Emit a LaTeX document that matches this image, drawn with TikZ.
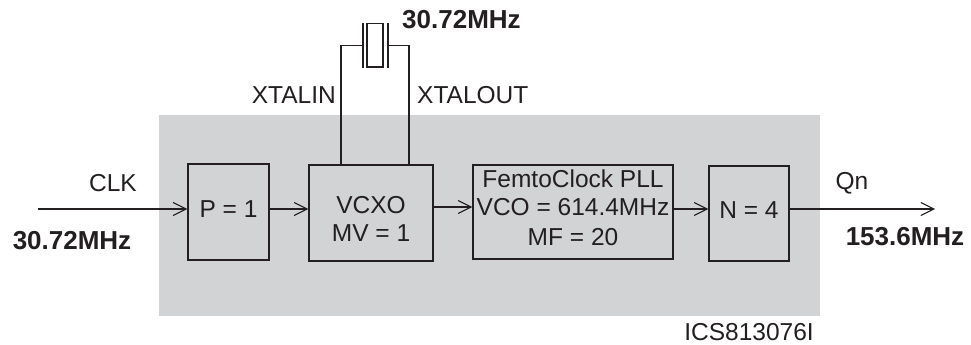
\documentclass[tikz,border=0pt]{standalone}
\usepackage{fontspec}
\setmainfont{Liberation Sans}
\usetikzlibrary{arrows.meta}
\definecolor{panel}{RGB}{209,211,212}
\definecolor{ink}{RGB}{35,31,32}
\begin{document}
\begin{tikzpicture}[x=1pt,y=-1pt,
  blk/.style={draw=ink,line width=1.3pt,minimum width=#1,inner sep=0pt},
  lbl/.style={text=ink,font=\fontsize{24.5}{28}\selectfont,inner sep=0pt},
  blbl/.style={text=ink,font=\fontsize{26}{30}\selectfont\bfseries,inner sep=0pt},
  sig/.style={draw=ink,line width=1.3pt,-{Straight Barb[length=13pt,width=13pt,line width=1.1pt]}},
  wire/.style={draw=ink,line width=1.3pt}]
\useasboundingbox (0,0) rectangle (971,345);
\fill[panel] (159,115) rectangle (820,316);
% blocks
\node[blk=81pt,minimum height=96pt] (P) at (228.5,212) {};
\node[blk=124pt,minimum height=96pt] (V) at (371,213) {};
\node[blk=200pt,minimum height=94pt] (F) at (573,212) {};
\node[blk=80pt,minimum height=95pt] (N) at (749,213.5) {};
% block texts
\node[lbl] (Pt) at (228.5,209) {P = 1};
\node[lbl] (Vt1) at (371,205) {VCXO};
\node[lbl] (Vt2) at (371,233) {MV = 1};
\node[lbl] (Ft1) at (573,179) {FemtoClock PLL};
\node[lbl] (Ft2) at (573,207) {VCO = 614.4MHz};
\node[lbl] (Ft3) at (573,237) {MF = 20};
\node[lbl] (Nt) at (749,210) {N = 4};
% signal path
\coordinate (in) at (38,209);
\coordinate (out) at (935,209);
\draw[sig] (in) -- (P.west |- in);
\draw[sig] (P.east |- in) -- (V.west |- in);
\draw[sig] (V.east |- 0,207) -- (F.west |- 0,207);
\draw[sig] (F.east |- in) -- (N.west |- in);
\draw[sig] (N.east |- in) -- (out);
% crystal
\coordinate (xl) at (341,45.7);
\coordinate (xr) at (409,45.7);
\draw[wire] (V.north -| xl) -- (xl) -- (363,45.7);
\draw[wire] (V.north -| xr) -- (xr) -- (388,45.7);
\draw[wire] (363,23) -- (363,68);
\draw[wire] (388,23) -- (388,68);
\draw[draw=ink,line width=1.3pt] (367,23.5) rectangle (383,67);
% labels
\node[lbl] (clk) at (113,183) {CLK};
\node[blbl] (fin) at (72,241) {30.72MHz};
\node[lbl] (qn) at (852,183) {Qn};
\node[blbl] (fout) at (905,237) {153.6MHz};
\node[blbl,anchor=west] (fx) at (402,20) {30.72MHz};
\node[lbl,anchor=east] (xin) at (336,95) {XTALIN};
\node[lbl,anchor=west] (xout) at (417,95) {XTALOUT};
\node[lbl] (ics) at (749,332) {ICS813076I};
\end{tikzpicture}
\end{document}
